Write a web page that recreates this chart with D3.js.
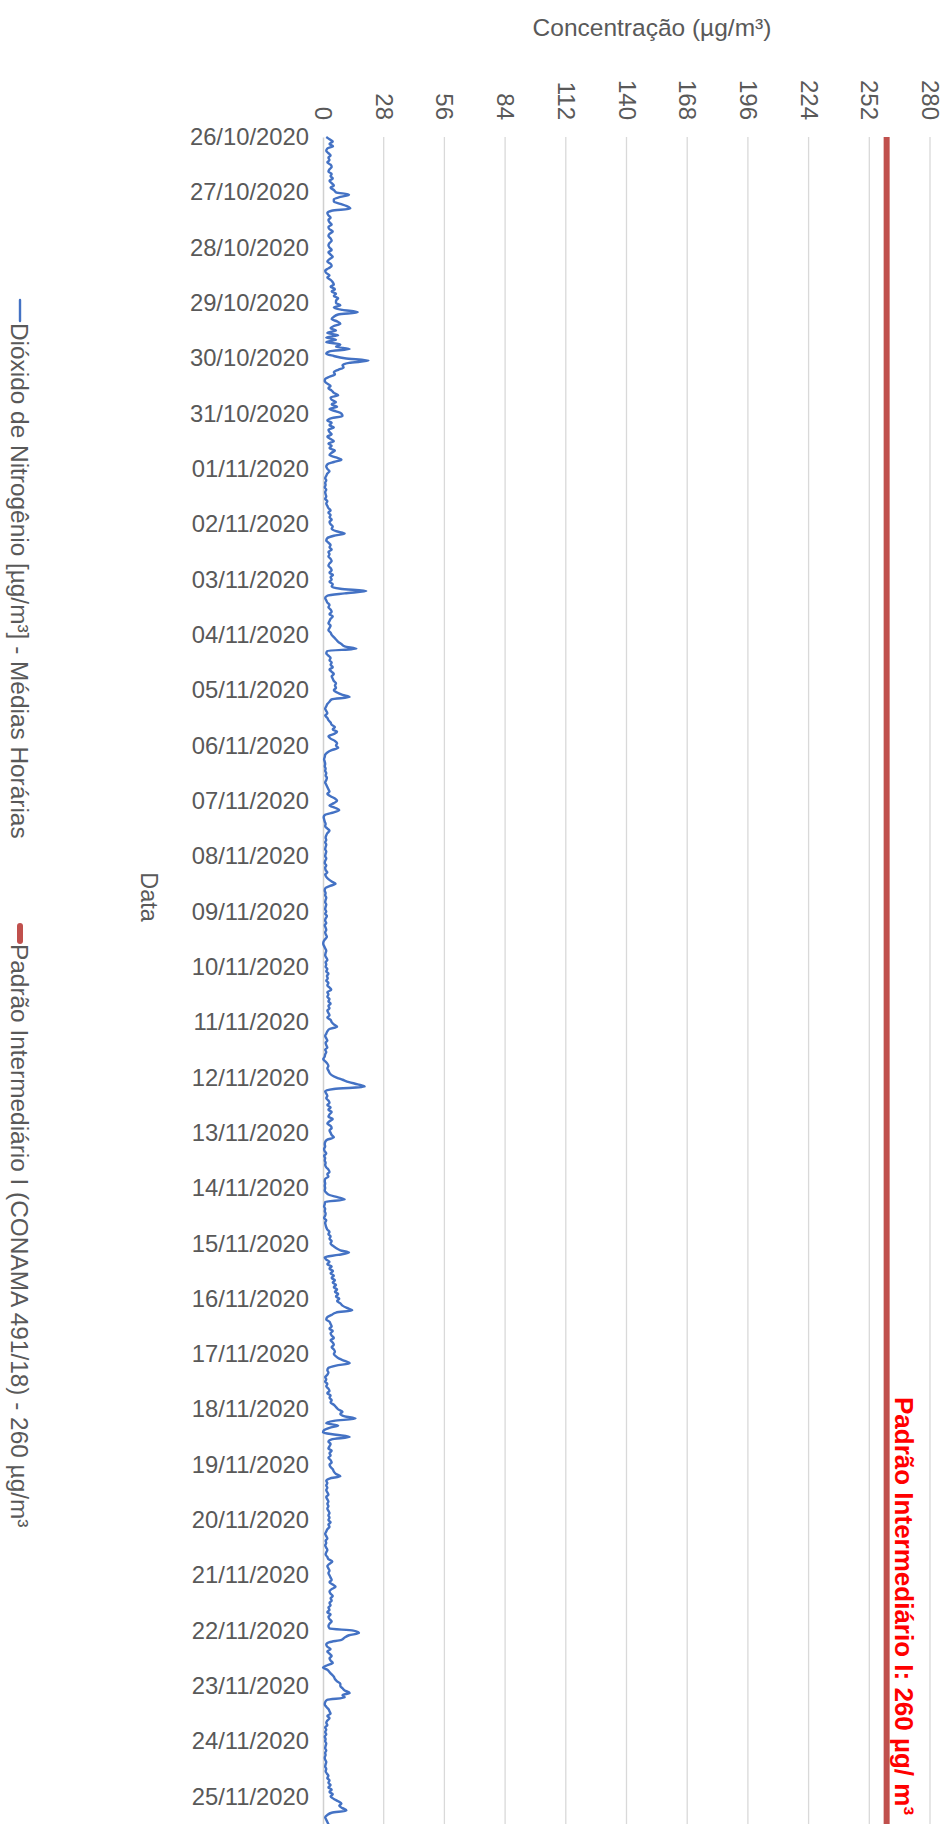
<!DOCTYPE html>
<html><head><meta charset="utf-8">
<script src="https://cdn.jsdelivr.net/npm/d3@7"></script>
<style>html,body{margin:0;padding:0;background:#fff;} svg{display:block;font-family:"Liberation Sans",Arial,sans-serif;}</style>
</head><body><svg id="chart" width="943" height="1824"></svg>
<script>
// ---- data ----
const dateLabels = ["26/10/2020","27/10/2020","28/10/2020","29/10/2020","30/10/2020","31/10/2020",
  "01/11/2020","02/11/2020","03/11/2020","04/11/2020","05/11/2020","06/11/2020","07/11/2020",
  "08/11/2020","09/11/2020","10/11/2020","11/11/2020","12/11/2020","13/11/2020","14/11/2020",
  "15/11/2020","16/11/2020","17/11/2020","18/11/2020","19/11/2020","20/11/2020","21/11/2020",
  "22/11/2020","23/11/2020","24/11/2020","25/11/2020"];
const valueTicks = [0,28,56,84,112,140,168,196,224,252,280];
// hourly NO2 means (µg/m³), 24 values per day starting 26/10/2020 00h
const no2Hourly = [
 1.5,3,4.5,3,4.6,2,1.5,2.5,3.5,2.5,3,2,3.5,4,3,2.5,4,3.5,4.5,3,4,5,3.5,5,
 6,12,8,5,5,8,11,12.6,4,2,2.5,3.5,2.5,3,4,2.5,3,4.5,3,2.5,3.5,4,3,2.5,
 3,4,2.5,3.5,4.5,3,2,3.5,4,2.5,1,1.5,3,2,3.5,4.5,5,3.5,5.5,4,6,5,7,6,
 6,8,5,9,16,7,5,4,6.5,8,5,3.5,6,2,7,1.5,6,1.5,8,6,12.3,3,1.5,5,
 10,21,12,9,9.5,7,5,5.5,3,1,0.8,2,3.5,2.5,4,5,7,3.5,4,6,4,6.5,3,6,
 8.5,9,4,2,4,3,5,2.5,3,4,2,3.5,5,2.5,4,3,5.5,4,3,6,8.5,5,2,1.5,
 2,3,2,1.5,1,1.5,1,1.2,0.8,1.5,1,1.2,1.5,1,2,1.5,2,2.5,3.5,2.5,3.5,3,4,3,
 3.5,4.5,4,6,10,5,2,1.5,2.5,3.5,3,4,2.5,3,2.5,3.5,4,3,2.5,3.5,4,3,4.6,3.5,
 4,3,4.5,4,8,20,10,2,1,1.5,2,3,2.5,3.5,4,3,4.5,3.5,3,2.5,3.5,3,2.5,3.5,
 4,5,6,7,8.5,10,15.4,2,1.5,2.5,3.5,3,4,3.5,4.5,3,4,5,4,4.5,5,6,5.5,6,
 5,6.5,9,12.3,4,3,2,1.5,1,1.5,2,1,2,2.5,3.5,4,5.5,4.5,6.5,5,2.5,3.5,5.5,6.5,
 6,7,4,2,1,0.8,0.5,0.8,1,0.8,1.2,1,1.5,1.2,1.8,1.5,1,1.5,2,2.5,3,2,3.5,5.5,
 6.5,5,3,5.5,7.5,5,1,0.3,0.5,0.8,1.2,1,2,3,2,1.5,1.2,1.5,1,1.5,1.2,1,1.5,1.2,
 1,1.5,1,0.8,1.5,1,1.2,2,1,1.5,2.5,4,5.8,3,1,0.8,1.2,1,1.5,1.2,1,1.5,1.2,1,
 1.5,1,1.8,1.2,1,1.5,0.8,1.2,1.5,1,1.3,1.8,1,0.3,0.1,0.5,1,1.5,1.2,1,1.5,2,1.2,1.5,
 1.2,2,1.5,2.5,1.8,2.2,1.5,2.5,2,3,3.8,2,2.5,2,3,2.5,3.5,2.5,3,2,2.5,3,2,3.5,
 4,5,6.5,3,2,1.5,1,1.5,2,1.2,1.5,2,1,1.5,1,0.8,0.1,1,2,2.5,2,2.5,3,4,
 6,9,12,16,19.2,5,1,1.5,2,1.5,2.5,3,2,3.5,2.5,4,3,2.5,4.5,3,2,3.5,4,3,
 3.5,4,5,2,1,0.8,1,0.5,0.8,1.5,0.5,1,0.8,1.2,1,1.5,2.5,3,2,2.5,1,0.8,1,0.8,
 1,0.8,1.5,3,7,10,1,0.8,0.5,1,0.8,1.2,1,0.5,1.5,1,1.2,1.5,2,3,2.5,3.5,3,4,
 3.5,4.5,6,8,12,7,0.8,1.5,3,2,4,3,4.6,3.5,5,4,5.5,4.5,6,5,6.5,5.5,7,6,
 7.5,6.5,8,9,11,13.5,6,4,2,1.5,3,3.5,4,3,4.5,3.5,4,5,3.5,4.5,5,4,5,5.5,
 5,6,7.5,10,12.3,6,2.5,2,2.5,2,1,1.5,1,2,1.5,2.5,3,2,3.5,3,4,3.5,5,6,
 7,9,8,10,15,5,1.5,7,3,0.5,0,6,12.3,4,2.5,3.5,3,2.5,4,3,3.5,2.5,3.5,4,
 3,3.5,4.5,5,6,8,3,1.5,2,1.5,2,1.5,2,2.5,1.5,2,2.5,2,2.5,2,2.5,3,2.5,3,
 2.5,3.5,2.5,3,2,1.5,1,1.5,2,1.2,1.5,1,1.5,2,1.5,1.2,2,2.5,4.3,3,2,2.5,3,2.5,
 3,3.5,4,3,4.5,5.8,4,3,3.5,4.5,3.5,4,3,3.5,2.5,3,2,3.5,2.5,3,4,3,2.5,3,
 14,16.6,12,10,8.5,3,1.5,2,3.5,2,3,4,3,3.5,4.5,2,0,2,3,4,5,5.5,6.5,8,
 8,9,10,12.3,9,10,2,1,0.8,1.5,2.5,3,3.5,2,3,2,1.5,2,1,1.5,1,1.5,0.8,1.2,
 1,1.5,1.2,1,1.5,1,1.2,0.8,1,1.5,1.2,1,1.5,1.2,1.8,2.5,2,3,2.5,3.5,2.5,4,3,4.5,
 3.5,5,7,8.5,7.5,9,10.8,4,2,1,1.5,2,2.5,3,2,3.5,4,3,2.5,3,4,3.5,3,2.5
];
const standardValue = 260;
const seriesNames = ["Dióxido de Nitrogênio [µg/m³] - Médias Horárias",
                     "Padrão Intermediário I (CONAMA 491/18) - 260 µg/m³"];
const annotationText = "Padrão Intermediário I: 260 µg/ m³";
const valueTitle = "Concentração (µg/m³)";
const dateTitle = "Data";

// ---- drawing ----
const svg = d3.select("#chart");
const textColor = "#595959";
const blue = "#4472C4", red = "#C0504D";

const parse = d3.utcParse("%d/%m/%Y");
const t0 = parse(dateLabels[0]);
const tEnd = d3.utcDay.offset(parse(dateLabels[dateLabels.length - 1]), 1);

const x = d3.scaleLinear().domain([0, 280]).range([323, 930]);
const y = d3.scaleUtc().domain([t0, tEnd]).range([137, 137 + 31 * 55.32]);
const yTop = y.range()[0], yBot = y.range()[1];

// gridlines
svg.append("g").selectAll("line").data(valueTicks.filter(v => v > 0)).join("line")
  .attr("x1", d => x(d)).attr("x2", d => x(d))
  .attr("y1", yTop).attr("y2", yBot)
  .attr("stroke", "#d9d9d9").attr("stroke-width", 1.3);

// value axis (top, rotated labels)
const gx = svg.append("g").attr("transform", "translate(0,120)")
  .call(d3.axisTop(x).tickValues(valueTicks).tickSize(0).tickFormat(d3.format("d")));
gx.select(".domain").remove();
gx.selectAll("text")
  .attr("x", 0).attr("y", 0).attr("dy", "0.35em")
  .attr("text-anchor", "end").attr("transform", "rotate(90)")
  .attr("fill", textColor).attr("font-size", 24).attr("font-family", null);

// date axis
const gy = svg.append("g").attr("transform", `translate(${x(0)},0)`)
  .call(d3.axisLeft(y).tickValues(dateLabels.map(parse)).tickSize(0).tickSizeOuter(0)
    .tickPadding(14).tickFormat(d3.utcFormat("%d/%m/%Y")));
gy.select(".domain").attr("stroke", "#d0d0d0").attr("stroke-width", 1.5);
gy.selectAll("text").attr("fill", textColor).attr("font-size", 23.8).attr("font-family", null);

// series
const hourly = no2Hourly.map((v, i) => ({ t: d3.utcHour.offset(t0, i), v }));
const line = d3.line().x(d => x(d.v)).y(d => y(d.t)).curve(d3.curveMonotoneY);

svg.append("path").datum(hourly.map(d => ({ t: d.t, v: standardValue })))
  .attr("d", line).attr("fill", "none").attr("stroke", red).attr("stroke-width", 6);

svg.append("path").datum(hourly)
  .attr("d", line).attr("fill", "none").attr("stroke", blue)
  .attr("stroke-width", 2.4).attr("stroke-linejoin", "round");

// annotation
svg.append("text").attr("transform", "translate(895,1397) rotate(90)")
  .attr("font-size", 26).attr("font-weight", "bold").attr("fill", "#FF0000")
  .text(annotationText);

// titles
svg.append("text").attr("x", 652).attr("y", 27).attr("dy", "0.35em")
  .attr("text-anchor", "middle").attr("font-size", 24.5).attr("fill", textColor)
  .text(valueTitle);
svg.append("text").attr("transform", "translate(149,897) rotate(90)")
  .attr("dy", "0.35em").attr("text-anchor", "middle")
  .attr("font-size", 23.5).attr("fill", textColor).text(dateTitle);

// legend
const legend = [
  { name: seriesNames[0], color: blue, w: 2.4, y1: 300, y2: 321, ty: 323 },
  { name: seriesNames[1], color: red, w: 6, y1: 926, y2: 941, ty: 944 }
];
const lg = svg.append("g");
lg.selectAll("line").data(legend).join("line")
  .attr("x1", 20).attr("x2", 20).attr("y1", d => d.y1).attr("y2", d => d.y2)
  .attr("stroke", d => d.color).attr("stroke-width", d => d.w).attr("stroke-linecap", "round");
lg.selectAll("text").data(legend).join("text")
  .attr("transform", d => `translate(20,${d.ty}) rotate(90)`)
  .attr("dy", "0.35em").attr("font-size", 24.4).attr("fill", textColor)
  .text(d => d.name);
</script>
</body></html>
